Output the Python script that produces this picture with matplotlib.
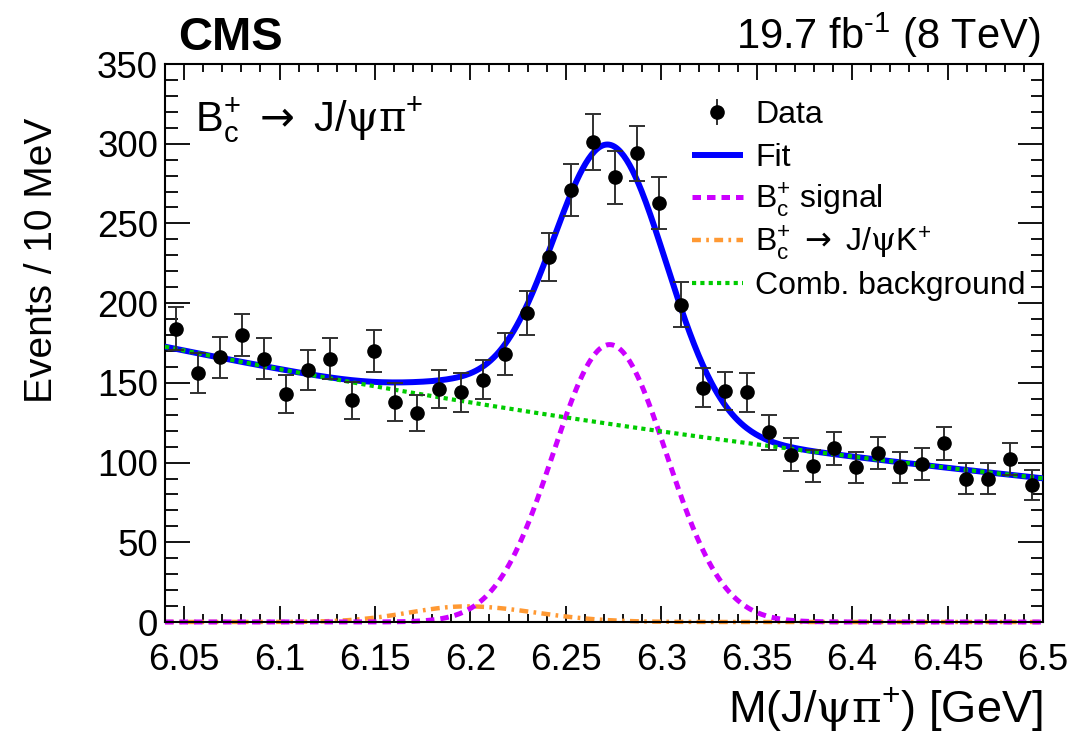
import numpy as np
import matplotlib
matplotlib.use("Agg")
import matplotlib.pyplot as plt
from matplotlib.ticker import MultipleLocator, FixedLocator, FixedFormatter

plt.rcParams["font.family"] = ["Liberation Sans", "DejaVu Sans"]
plt.rcParams["mathtext.fontset"] = "custom"
plt.rcParams["mathtext.rm"] = "Liberation Sans"
plt.rcParams["mathtext.it"] = "Liberation Sans:italic"
plt.rcParams["mathtext.bf"] = "Liberation Sans:bold"
plt.rcParams["mathtext.sf"] = "DejaVu Sans"       # arrows
plt.rcParams["mathtext.tt"] = "DejaVu Serif"      # Greek letters

# ---- binned J/psi pi+ invariant-mass spectrum ----
mass_lo, mass_hi, n_bins = 6.04, 6.50, 40
counts = [184, 156, 166, 180, 165, 143, 158, 165, 139, 170,
          138, 131, 146, 144, 152, 168, 194, 229, 271, 301,
          279, 294, 263, 199, 147, 145, 144, 119, 105, 98,
          109, 97, 106, 97, 99, 112, 90, 90, 102, 86]

# ---- fit model parameters ----
bkg_norm, bkg_slope = 172.7, 1.414          # exponential combinatorial background
sig_peak, sig_mean, sig_sigma = 174.0, 6.273, 0.0297   # Bc+ signal Gaussian
jk_peak, jk_mean, jk_sig_lo, jk_sig_hi = 9.8, 6.198, 0.030, 0.036  # Bc+ -> J/psi K+

xticks = [6.05, 6.10, 6.15, 6.20, 6.25, 6.30, 6.35, 6.40, 6.45, 6.50]
xtick_labels = ["6.05", "6.1", "6.15", "6.2", "6.25", "6.3", "6.35", "6.4", "6.45", "6.5"]
yticks = [0, 50, 100, 150, 200, 250, 300, 350]

edges = np.linspace(mass_lo, mass_hi, n_bins + 1)
centers = 0.5 * (edges[:-1] + edges[1:])
counts = np.array(counts, dtype=float)

m = np.linspace(mass_lo, mass_hi, 600)
comb = bkg_norm * np.exp(-bkg_slope * (m - mass_lo))
signal = sig_peak * np.exp(-0.5 * ((m - sig_mean) / sig_sigma) ** 2)
jk_width = np.where(m < jk_mean, jk_sig_lo, jk_sig_hi)
jpsik = jk_peak * np.exp(-0.5 * ((m - jk_mean) / jk_width) ** 2)
fit = comb + signal + jpsik

BLUE = "#0000ff"
MAGENTA = "#cc00ff"
ORANGE = "#ff9933"
GREEN = "#00cc00"

ARROW = r"$\mathsf{\rightarrow}$"
PSI, PI = r"$\mathtt{\psi}$", r"$\mathtt{\pi}$"
BC = r"B$_{\mathrm{c}}^{+}$"

fig = plt.figure(figsize=(10.75, 7.33), dpi=100)
ax = fig.add_axes([165 / 1075, 1 - 622 / 733, 878 / 1075, 558 / 733])

sig_style = dict(color=MAGENTA, lw=3.6, linestyle=(0, (1.7, 1.2)))
jk_style = dict(color=ORANGE, lw=3.2, linestyle=(0, (2.0, 1.2, 0.6, 1.2)))
fit_style = dict(color=BLUE, lw=4.3, linestyle="-")
comb_style = dict(color=GREEN, lw=3.0, linestyle=(0, (1.0, 1.0)))

ax.plot(m, jpsik, clip_on=False, zorder=2, **jk_style)
ax.plot(m, signal, clip_on=False, zorder=2.5, **sig_style)
ax.plot(m, fit, zorder=3, **fit_style)
ax.plot(m, comb, zorder=4, **comb_style)

ax.errorbar(centers, counts, yerr=np.sqrt(counts), fmt="o", color="black",
            ms=9.5, ecolor="#303030", elinewidth=1.4, capsize=6, capthick=1.4,
            zorder=6)

ax.set_xlim(mass_lo, mass_hi)
ax.set_ylim(0, 350)

ax.xaxis.set_major_locator(FixedLocator(xticks))
ax.xaxis.set_major_formatter(FixedFormatter(xtick_labels))
ax.xaxis.set_minor_locator(MultipleLocator(0.01))
ax.yaxis.set_major_locator(FixedLocator(yticks))
ax.yaxis.set_minor_locator(MultipleLocator(10))

for s in ax.spines.values():
    s.set_linewidth(1.5)
ax.tick_params(axis="both", which="both", direction="in", top=True, right=True,
               width=1.3, labelsize=26.5)
ax.tick_params(axis="x", which="major", length=11.5, pad=15)
ax.tick_params(axis="x", which="minor", length=5.8)
ax.tick_params(axis="y", which="major", length=18, pad=5)
ax.tick_params(axis="y", which="minor", length=9)

# axis titles
fig.text(0.039, 1 - 118 / 733, "Events / 10 MeV", rotation=90, ha="center",
         va="top", fontsize=28)
fig.text(1043 / 1075, 0.015, "M(J/" + PSI + PI + "$^{+}$) [GeV]", ha="right",
         va="baseline", fontsize=32.5)

# headers
fig.text(178 / 1075, 1 - 50 / 733, "CMS", fontsize=34, fontweight="bold",
         ha="left", va="baseline")
fig.text(1040 / 1075, 1 - 49 / 733, "19.7 fb$^{\u2010\\mathrm{1}}$ (8 TeV)", fontsize=30,
         ha="right", va="baseline")

# decay channel label
ax.text(0.034, 0.879, BC + " " + ARROW + " J/" + PSI + PI + "$^{+}$",
        transform=ax.transAxes, fontsize=30, ha="left", va="baseline")

# legend
leg_rows = [0.914, 0.837, 0.762, 0.685, 0.608]
hx0, hx1, tx = 0.600, 0.658, 0.672
leg_fs = 23
base_off = 0.020
tr = ax.transAxes
ax.plot([0.5 * (hx0 + hx1)] * 2, [leg_rows[0] - 0.022, leg_rows[0] + 0.022],
        color="#303030", lw=1.4, transform=tr, clip_on=False, zorder=7)
ax.plot([0.5 * (hx0 + hx1)], [leg_rows[0]], "o", color="black", ms=9.5,
        transform=tr, clip_on=False, zorder=7)
for y, st in zip(leg_rows[1:], [fit_style, sig_style, jk_style, comb_style]):
    ax.plot([hx0, hx1], [y, y], transform=tr, clip_on=False, zorder=7,
            solid_capstyle="butt", dash_capstyle="butt", **st)
labels = ["Data", "Fit", BC + " signal",
          BC + " " + ARROW + " J/" + PSI + "K$^{+}$", "Comb. background"]
for y, lab in zip(leg_rows, labels):
    ax.text(tx, y - base_off, lab, transform=tr, fontsize=leg_fs,
            ha="left", va="baseline")

fig.savefig("out.png", dpi=100)
